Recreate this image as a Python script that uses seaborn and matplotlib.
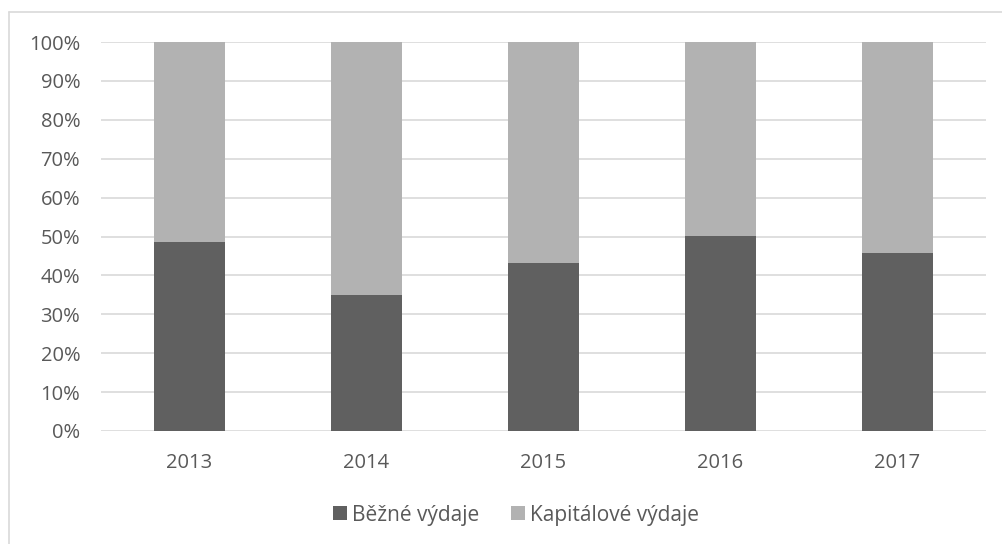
import matplotlib
matplotlib.use("Agg")
import matplotlib.pyplot as plt
import seaborn as sns
import pandas as pd
from matplotlib.lines import Line2D
from matplotlib.patches import Patch

years = ["2013", "2014", "2015", "2016", "2017"]
bezne = [48.7, 35.0, 43.3, 50.1, 45.8]
kapitalove = [100 - b for b in bezne]
series_names = ["Běžné výdaje", "Kapitálové výdaje"]
yticks = list(range(0, 101, 10))

sns.set_theme(style="white")
plt.rcParams["font.family"] = ["Open Sans", "DejaVu Sans"]

df = pd.DataFrame({"year": years, "bezne": bezne, "kap": kapitalove})
df["total"] = df["bezne"] + df["kap"]

fig = plt.figure(figsize=(10.02, 5.44), dpi=100)
ax = fig.add_axes([101/1002, (544-431)/544, (986-101)/1002, (431-42)/544])

dark = "#606060"
light = "#b2b2b2"
text_c = "#595959"

sns.barplot(data=df, x="year", y="total", color=light, width=0.4, ax=ax,
            saturation=1, zorder=2, linewidth=0, edgecolor="none")
sns.barplot(data=df, x="year", y="bezne", color=dark, width=0.4, ax=ax,
            saturation=1, zorder=3, linewidth=0, edgecolor="none")

ax.set_ylim(0, 100)
ax.set_xlim(-0.5, 4.5)
ax.set_yticks(yticks)
ax.set_yticklabels([f"{t}%" for t in yticks])
for t in yticks:
    ax.axhline(t, color="#d9d9d9", lw=1.2, zorder=1)
ax.set_xlabel("")
ax.set_ylabel("")
for s in ax.spines.values():
    s.set_visible(False)
ax.tick_params(axis="both", length=0, labelsize=14.5, colors=text_c)
ax.tick_params(axis="y", pad=15)
ax.tick_params(axis="x", pad=16)

handles = [Patch(facecolor=dark, edgecolor="none"), Patch(facecolor=light, edgecolor="none")]
fig.legend(handles, series_names, loc="center", bbox_to_anchor=(516/1002, 1 - 515/544),
           ncol=2, frameon=False, fontsize=15, labelcolor=text_c,
           handlelength=0.67, handleheight=0.67, handletextpad=0.24, columnspacing=1.54)

# outer chart border (left and top visible)
fig.add_artist(Line2D([9/1002, 9/1002], [0, 1 - 12/544], transform=fig.transFigure,
                      color="#d9d9d9", lw=1.2))
fig.add_artist(Line2D([9/1002, 1], [1 - 12/544, 1 - 12/544], transform=fig.transFigure,
                      color="#d9d9d9", lw=1.2))

fig.savefig("out.png", dpi=100)
